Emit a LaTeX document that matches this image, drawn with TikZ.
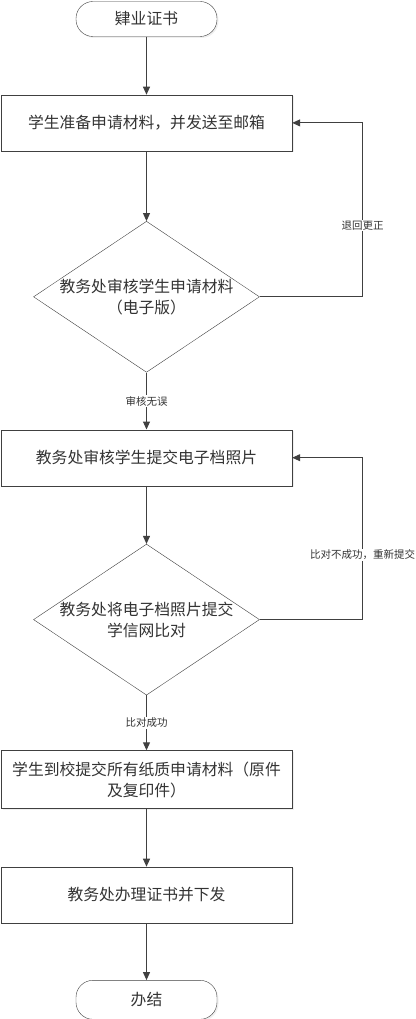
\documentclass[tikz,border=0pt]{standalone}
\usepackage{fontspec}
\newfontfamily\cjk{Noto Sans CJK SC}
\usetikzlibrary{arrows.meta,positioning,shapes.geometric,shadows}
\definecolor{linec}{HTML}{404040}
\definecolor{textc}{HTML}{333333}
\newcommand{\mainf}{\cjk\fontsize{15.8pt}{21pt}\selectfont}
\newcommand{\lblf}{\cjk\fontsize{10.5pt}{13pt}\selectfont}

\begin{document}
\begin{tikzpicture}[
  x=1pt, y=-1pt,
  node distance=58pt,
  shade/.style={drop shadow={shadow xshift=1.5pt, shadow yshift=-1.5pt, fill=black!12}},
  term/.style={
    draw=linec,
    fill=white,
    shade,
    rounded corners=17pt,
    minimum width=141pt,
    minimum height=35pt,
    text=textc,
    font=\mainf
  },
  proc/.style={
    draw=linec,
    fill=white,
    shade,
    align=center,
    minimum width=291pt,
    minimum height=56pt,
    text=textc,
    font=\mainf
  },
  dec/.style={
    draw=linec,
    fill=white,
    diamond,
    aspect=1.5,
    inner sep=-4pt,
    align=center,
    minimum width=226pt,
    minimum height=151pt,
    text=textc,
    font=\mainf
  },
  lbl/.style={fill=white, inner sep=1pt, text=textc, font=\lblf},
  arr/.style={-{Triangle[length=8pt,width=7pt]}, draw=linec, line width=1pt}
]
\useasboundingbox (0,0) rectangle (415,1019);

\node[term] (start) at (146.5,19) {肄业证书};
\node[proc, below=58pt of start] (prep) {学生准备申请材料，并发送至邮箱};
\node[dec, below=70pt of prep] (chk) {教务处审核学生申请材料\\（电子版）};
\node[proc, below=57pt of chk] (photo) {教务处审核学生提交电子档照片};
\node[dec, below=58pt of photo] (cmp) {教务处将电子档照片提交\\学信网比对};
\node[proc, below=55pt of cmp, minimum height=58pt] (paper) {学生到校提交所有纸质申请材料（原件\\及复印件）};
\node[proc, below=58pt of paper] (issue) {教务处办理证书并下发};
\node[term, below=57pt of issue, minimum height=39pt] (stop) {办结};

\coordinate[right=103pt of chk.east] (back1);
\coordinate[right=103pt of cmp.east] (back2);

\draw[arr] (start) -- (prep);
\draw[arr] (prep) -- (chk);
\draw[arr] (chk) -- node[lbl]{审核无误} (photo);
\draw[arr] (photo) -- (cmp);
\draw[arr] (cmp) -- node[lbl]{比对成功} (paper);
\draw[arr] (paper) -- (issue);
\draw[arr] (issue) -- (stop);
\draw[arr] (chk.east) -- (back1) -- node[lbl, pos=0.41]{退回更正} (back1 |- prep.east) -- (prep.east);
\draw[arr] (cmp.east) -- (back2) -- node[lbl, pos=0.40]{比对不成功，重新提交} (back2 |- photo.east) -- (photo.east);

\end{tikzpicture}
\end{document}
